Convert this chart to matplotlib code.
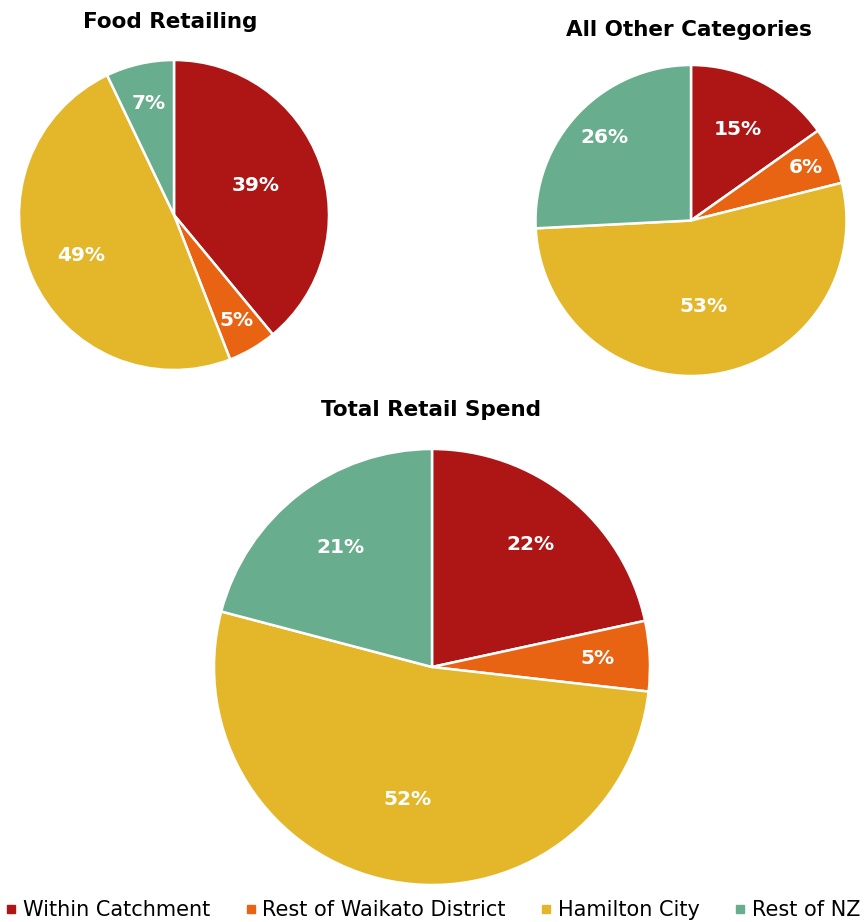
import numpy as np
import matplotlib.pyplot as plt
from matplotlib.lines import Line2D

plt.rcParams['font.family'] = ['DejaVu Sans']

categories = ['Within Catchment', 'Rest of Waikato District', 'Hamilton City', 'Rest of NZ']
colors = ['#AE1515', '#E86413', '#E4B62A', '#69AD8F']

food = [39.0, 5.1, 48.8, 7.1]
other = [15.2, 5.9, 53.1, 25.8]
total = [21.6, 5.2, 52.3, 20.9]

# label radial distances (fraction of radius), roughly as in the source
food_ld = [0.56, 0.79, 0.65, 0.74]
other_ld = [0.66, 0.81, 0.56, 0.77]
total_ld = [0.72, 0.76, 0.62, 0.69]

fig = plt.figure(figsize=(8.66, 9.22), dpi=100)
W, H = 866, 922


def pie_axes(cx, cy, r):
    return fig.add_axes([(cx - r) / W, 1 - (cy + r) / H, 2 * r / W, 2 * r / H])


def draw_pie(ax, vals, dists, title, title_xy, fs):
    ax.pie(vals, colors=colors, startangle=90, counterclock=False,
           wedgeprops=dict(edgecolor='white', linewidth=1.8))
    ax.set_xlim(-1.0, 1.0)
    ax.set_ylim(-1.0, 1.0)
    ax.set_aspect('equal')
    cum = np.cumsum([0] + vals[:-1])
    tot = sum(vals)
    for v, c, d in zip(vals, cum, dists):
        ang = np.deg2rad(90 - 360 * (c + v / 2) / tot)
        ax.text(d * np.cos(ang), d * np.sin(ang), f'{v:.0f}%', ha='center', va='center',
                color='white', fontsize=fs, fontweight='bold')
    fig.text(title_xy[0] / W, 1 - title_xy[1] / H, title, ha='center', va='center',
             fontsize=15.5, fontweight='bold')


draw_pie(pie_axes(174, 215, 155), food, food_ld, 'Food Retailing', (170, 22), 14.5)
draw_pie(pie_axes(691, 220.5, 155.5), other, other_ld, 'All Other Categories', (689, 30), 14.5)
draw_pie(pie_axes(432, 667, 218), total, total_ld, 'Total Retail Spend', (431, 410), 14.5)

handles = [Line2D([], [], marker='s', linestyle='', color=c, markersize=6) for c in colors]
fig.legend(handles, categories, loc='center', bbox_to_anchor=(0.5, 1 - 910 / H), ncol=4,
           frameon=False, fontsize=15, handlelength=0.5, handletextpad=0.3,
           columnspacing=1.7, borderaxespad=0)

fig.savefig('out.png', dpi=100)
